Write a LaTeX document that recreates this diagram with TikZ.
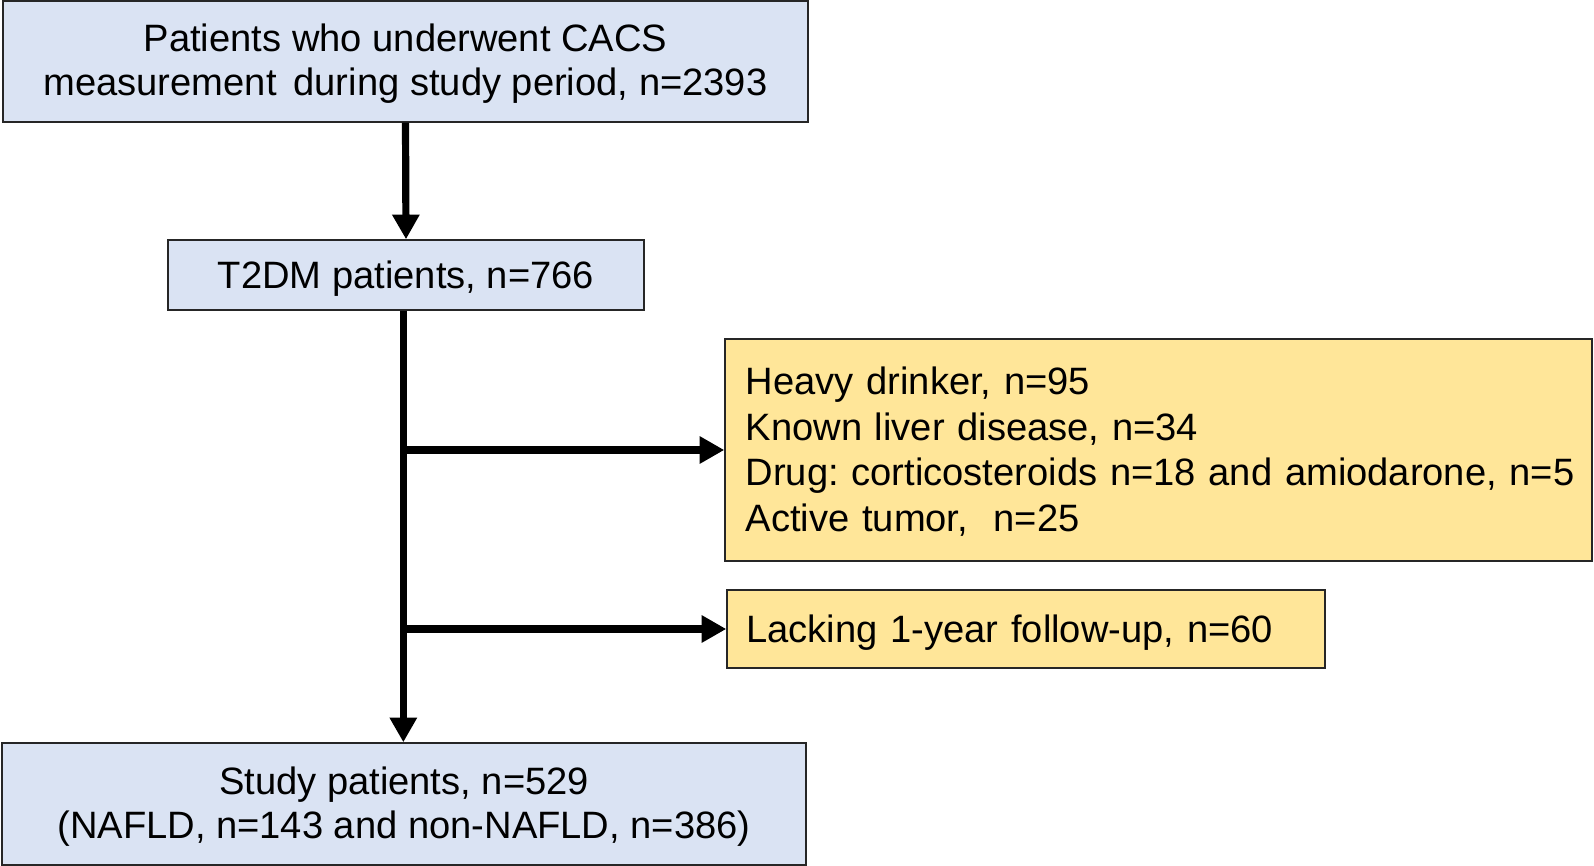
\documentclass[tikz,border=0pt]{standalone}
\usepackage{fontspec}
\setmainfont{Liberation Sans}
\usetikzlibrary{arrows.meta}
\definecolor{boxblue}{HTML}{DAE3F3}
\definecolor{boxyellow}{HTML}{FFE699}
% #1: amount by which the text is lowered inside its box
\newcommand\clines[2]{\raisebox{0pt}[\dimexpr\height+2\dimexpr#1\relax\relax][\depth]{\begin{tabular}{@{}c@{}}#2\end{tabular}}}
\newcommand\llines[2]{\raisebox{0pt}[\dimexpr\height+2\dimexpr#1\relax\relax][\depth]{\begin{tabular}{@{}l@{}}#2\end{tabular}}}
\begin{document}
\frenchspacing
\begin{tikzpicture}[x=0.75pt,y=-0.75pt,
  bluebox/.style={draw=black!85, line width=1.1pt, fill=boxblue, align=center, inner sep=0pt, font=\fontsize{28.6}{32.8}\selectfont},
  yellowbox/.style={draw=black!85, line width=1.1pt, fill=boxyellow, align=left, inner xsep=15.5pt, inner ysep=0pt, font=\fontsize{28.6}{34.1}\selectfont},
  flow/.style={line width=5.4pt, -{Triangle[length=18.5pt,width=19.5pt]}}]
\useasboundingbox (0,0) rectangle (1594,866);
\node[bluebox, minimum width=603.75pt, minimum height=90.75pt] (top) at (405.5,61.5)
  {\clines{2.3pt}{Patients who underwent CACS\\measurement\, during study period, n=2393}};
\node[bluebox, minimum width=357pt, minimum height=52.5pt] (t2dm) at (406,275)
  {\clines{3.6pt}{T2DM patients, n=766}};
\node[yellowbox, text width=619.25pt, minimum height=166.5pt] (excl) at (1158.5,450)
  {\llines{3pt}{Heavy drinker, n=95\\Known liver disease, n=34\\Drug: corticosteroids n=18 and amiodarone, n=5\\Active tumor, \ n=25}};
\node[yellowbox, text width=419.5pt, inner xsep=14.5pt, minimum height=58.5pt] (lack) at (1026,629)
  {\llines{3pt}{Lacking 1-year follow-up, n=60}};
\node[bluebox, minimum width=603pt, minimum height=91.5pt] (study) at (404,804)
  {\clines{3pt}{Study patients, n=529\\(NAFLD, n=143 and non-NAFLD, n=386)}};
\draw[flow] (top.south) -- (t2dm.north);
\coordinate (m0) at ([xshift=-2pt]t2dm.south);
\draw[flow] (m0) -- (m0 |- study.north);
\coordinate (j1) at (m0 |- excl.west);
\coordinate (j2) at (m0 |- lack.west);
\draw[flow] (j1) -- (excl.west);
\draw[flow] (j2) -- (lack.west);
\end{tikzpicture}
\end{document}
